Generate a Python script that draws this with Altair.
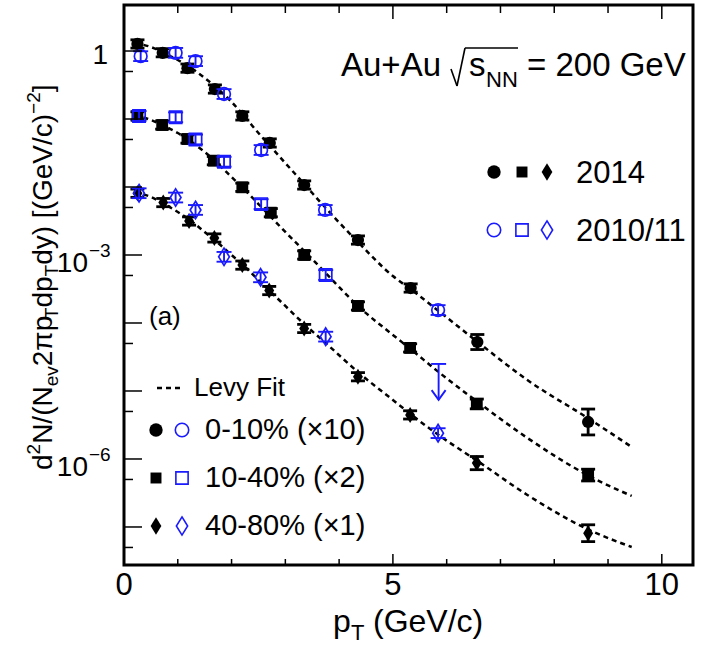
import altair as alt
import pandas as pd

FONT = "Liberation Sans"
BLUE = "#1a1aff"

# ---------------- data ----------------
# 2014, 0-10% (x10)
pt_c14 = [0.25, 0.72, 1.18, 1.69, 2.20, 2.71, 3.35, 4.35, 5.33, 6.57, 8.63]
y_c14 = [1.27, 0.94, 0.56, 0.276, 0.111, 0.0444, 0.0107, 1.66e-3, 3.27e-4, 5.25e-5, 3.5e-6]
e_c14 = [0.15, 0.15, 0.15, 0.15, 0.15, 0.15, 0.15, 0.15, 0.15, 0.29, 0.55]
# 2014, 10-40% (x2)
pt_s14 = [0.25, 0.71, 1.18, 1.67, 2.20, 2.73, 3.35, 4.35, 5.32, 6.56, 8.63]
y_s14 = [0.111, 0.0816, 0.0508, 0.0244, 0.0099, 4.19e-3, 1.0e-3, 1.78e-4, 4.3e-5, 6.45e-6, 5.8e-7]
e_s14 = [0.15, 0.15, 0.15, 0.15, 0.15, 0.15, 0.15, 0.15, 0.15, 0.18, 0.22]
# 2014, 40-80% (x1)
pt_d14 = [0.25, 0.73, 1.21, 1.68, 2.20, 2.70, 3.35, 4.35, 5.32, 6.56, 8.63]
y_d14 = [8.1e-3, 5.9e-3, 3.16e-3, 1.78e-3, 7.1e-4, 3.0e-4, 8.3e-5, 1.62e-5, 4.45e-6, 8.7e-7, 8.1e-8]
e_d14 = [0.15, 0.15, 0.15, 0.15, 0.15, 0.15, 0.15, 0.15, 0.15, 0.25, 0.33]

# 2010/11
pt_c11 = [0.31, 0.96, 1.33, 1.86, 2.55, 3.74, 5.84]
y_c11 = [0.84, 0.94, 0.71, 0.233, 0.035, 4.6e-3, 1.55e-4]
e_c11 = [0.18, 0.18, 0.18, 0.18, 0.18, 0.18, 0.18]
pt_s11 = [0.28, 0.96, 1.33, 1.86, 2.55, 3.75]
y_s11 = [0.111, 0.106, 0.05, 0.0235, 5.6e-3, 5.08e-4]
e_s11 = [0.18, 0.18, 0.18, 0.18, 0.18, 0.18]
pt_d11 = [0.28, 0.96, 1.33, 1.86, 2.54, 3.75, 5.84]
y_d11 = [8.1e-3, 7.0e-3, 4.6e-3, 9.4e-4, 4.7e-4, 6.3e-5, 2.4e-6]
e_d11 = [0.18, 0.18, 0.18, 0.18, 0.18, 0.18, 0.18]

# 10-40% 2010/11 upper limit
lim_pt = [5.85]
lim_top = [2.5e-5]
lim_tip = [7.4e-6]

# Levy fit curves
fit_x = [0.2, 0.5, 0.75, 1.0, 1.25, 1.5, 1.75, 2.0, 2.25, 2.5, 2.75, 3.0, 3.35, 3.75,
         4.35, 5.0, 5.35, 5.85, 6.6, 7.5, 8.65, 9.44]
fit_c = [1.31, 1.145, 0.935, 0.737, 0.562, 0.401, 0.276, 0.178, 0.107, 0.0622, 0.0375,
         0.0225, 0.0111, 4.91e-3, 1.55e-3, 4.9e-4, 3.06e-4, 1.50e-4, 5.08e-5, 1.45e-5,
         3.88e-6, 1.50e-6]
fit_s = [0.1145, 0.0967, 0.0789, 0.0622, 0.0459, 0.0327, 0.0218, 0.0140, 9.03e-3, 5.62e-3,
         3.50e-3, 2.18e-3, 1.15e-3, 5.44e-4, 1.78e-4, 6.67e-5, 4.01e-5, 1.90e-5, 6.67e-6,
         2.04e-6, 5.62e-7, 2.86e-7]
fit_d = [8.44e-3, 7.13e-3, 5.62e-3, 4.29e-3, 3.16e-3, 2.18e-3, 1.50e-3, 1.0e-3, 6.67e-4,
         4.28e-4, 2.76e-4, 1.78e-4, 9.66e-5, 5.08e-5, 1.90e-5, 7.38e-6, 4.44e-6, 2.25e-6,
         9.04e-7, 2.96e-7, 9.04e-8, 5.08e-8]

x_major = [0, 5, 10]
x_minor = [1, 2, 3, 4, 6, 7, 8, 9]
y_decades = [1e-7, 1e-6, 1e-5, 1e-4, 1e-3, 1e-2, 1e-1, 1]
y_halves = [5e-8, 5e-7, 5e-6, 5e-5, 5e-4, 5e-3, 5e-2, 0.5]
y_lab_vals = [1e-3, 1e-6]
y_lab_exp = ["\u22123", "\u22126"]

# ---------------- layout ----------------
L, T = 124, 5
W, H = 569, 560
xs = alt.Scale(domain=[0, 10.58], nice=False, zero=False)
ys = alt.Scale(type="log", domain=[2.76e-8, 4.75], nice=False)

CIRCLE = "circle"
SQUARE = "square"
DIAMOND = "M0,-1L0.62,0L0,1L-0.62,0Z"
ARROWHEAD = "M-1,-1.4L0,0L1,-1.4"


def X(f="pt"):
    return alt.X(f"{f}:Q", scale=xs, axis=None)


def Y(f="y"):
    return alt.Y(f"{f}:Q", scale=ys, axis=None)


def series(pt, y, err, shape, size, color, filled, cap, sw):
    df = pd.DataFrame({
        "pt": pt, "y": y,
        "lo": [v / (1 + e) for v, e in zip(y, err)],
        "hi": [v * (1 + e) for v, e in zip(y, err)],
    })
    base = alt.Chart(df)
    bar = base.mark_rule(color=color, strokeWidth=sw).encode(x=X(), y=Y("lo"), y2="hi:Q")
    c1 = base.mark_tick(orient="horizontal", size=cap, thickness=sw, color=color,
                        opacity=1).encode(x=X(), y=Y("lo"))
    c2 = base.mark_tick(orient="horizontal", size=cap, thickness=sw, color=color,
                        opacity=1).encode(x=X(), y=Y("hi"))
    if filled:
        p = base.mark_point(shape=shape, size=size, filled=True, color=color,
                            opacity=1).encode(x=X(), y=Y())
    else:
        p = base.mark_point(shape=shape, size=size, filled=False, color=color,
                            strokeWidth=1.7, opacity=1).encode(x=X(), y=Y())
    return [bar, c1, c2, p]


def fit(vals):
    df = pd.DataFrame({"pt": fit_x, "y": vals})
    return alt.Chart(df).mark_line(color="black", strokeDash=[5, 4], interpolate="monotone",
                                   strokeWidth=2.5).encode(x=X(), y=Y())


ONE = pd.DataFrame({"a": [0]})


def txt(s, x, y, size, align="left", angle=0, color="black"):
    return alt.Chart(ONE).mark_text(
        align=align, baseline="alphabetic", fontSize=size, font=FONT,
        angle=angle, color=color).encode(
        x=alt.value(x - L), y=alt.value(y - T), text=alt.value(s))


def seg(x1, y1, x2, y2, w=1.6):
    return alt.Chart(ONE).mark_rule(color="black", strokeWidth=w).encode(
        x=alt.value(x1 - L), y=alt.value(y1 - T), x2=alt.value(x2 - L), y2=alt.value(y2 - T))


def sym(x, y, shape, size, color, filled):
    kw = dict(shape=shape, size=size, filled=filled, color=color, opacity=1)
    if not filled:
        kw["strokeWidth"] = 1.6
    return alt.Chart(ONE).mark_point(**kw).encode(x=alt.value(x - L), y=alt.value(y - T))


layers = []

# fits
layers += [fit(fit_c), fit(fit_s), fit(fit_d)]

# data
layers += series(pt_c14, y_c14, e_c14, CIRCLE, 150, "black", True, 14, 2.8)
layers += series(pt_s14, y_s14, e_s14, SQUARE, 140, "black", True, 14, 2.8)
layers += series(pt_d14, y_d14, e_d14, DIAMOND, 256, "black", True, 14, 2.8)
layers += series(pt_c11, y_c11, e_c11, CIRCLE, 160, BLUE, False, 15, 1.9)
layers += series(pt_s11, y_s11, e_s11, SQUARE, 150, BLUE, False, 15, 1.9)
layers += series(pt_d11, y_d11, e_d11, DIAMOND, 300, BLUE, False, 15, 1.9)

# upper limit arrow
lim = pd.DataFrame({"pt": lim_pt, "top": lim_top, "tip": lim_tip})
lb = alt.Chart(lim)
layers += [
    lb.mark_rule(color=BLUE, strokeWidth=1.9).encode(x=X(), y=Y("top"), y2="tip:Q"),
    lb.mark_tick(orient="horizontal", size=15, thickness=1.9, color=BLUE,
                 opacity=1).encode(x=X(), y=Y("top")),
    lb.mark_point(shape=ARROWHEAD, size=196, filled=False, color=BLUE, strokeWidth=1.9,
                  opacity=1).encode(x=X(), y=Y("tip")),
]

# ticks (inward, ROOT style)
dmaj = alt.Chart(pd.DataFrame({"v": x_major}))
dmin = alt.Chart(pd.DataFrame({"v": x_minor}))
layers += [
    dmaj.mark_rule(color="black", strokeWidth=1.5).encode(
        x=alt.X("v:Q", scale=xs, axis=None), y=alt.value(H), y2=alt.value(H - 11)),
    dmin.mark_rule(color="black", strokeWidth=1.5).encode(
        x=alt.X("v:Q", scale=xs, axis=None), y=alt.value(H), y2=alt.value(H - 6)),
    dmaj.mark_rule(color="black", strokeWidth=1.5).encode(
        x=alt.X("v:Q", scale=xs, axis=None), y=alt.value(0), y2=alt.value(14)),
    dmin.mark_rule(color="black", strokeWidth=1.5).encode(
        x=alt.X("v:Q", scale=xs, axis=None), y=alt.value(0), y2=alt.value(8)),
]
ydec = alt.Chart(pd.DataFrame({"v": y_decades}))
yhalf = alt.Chart(pd.DataFrame({"v": y_halves}))
layers += [
    ydec.mark_rule(color="black", strokeWidth=1.5).encode(
        y=alt.Y("v:Q", scale=ys, axis=None), x=alt.value(0), x2=alt.value(18)),
    yhalf.mark_rule(color="black", strokeWidth=1.5).encode(
        y=alt.Y("v:Q", scale=ys, axis=None), x=alt.value(0), x2=alt.value(9)),
]

# tick labels
layers.append(
    dmaj.mark_text(fontSize=31, font=FONT, baseline="alphabetic", align="center").encode(
        x=alt.X("v:Q", scale=xs, axis=None), y=alt.value(595 - T), text="v:Q"))
ylab = alt.Chart(pd.DataFrame({"v": y_lab_vals, "e": y_lab_exp}))
layers += [
    ylab.mark_text(fontSize=28, font=FONT, baseline="alphabetic", align="right", dy=17).encode(
        y=alt.Y("v:Q", scale=ys, axis=None), x=alt.value(88 - L), text=alt.value("10")),
    ylab.mark_text(fontSize=19, font=FONT, baseline="alphabetic", align="left", dy=2).encode(
        y=alt.Y("v:Q", scale=ys, axis=None), x=alt.value(89 - L), text="e:N"),
    alt.Chart(pd.DataFrame({"v": [1]})).mark_text(
        fontSize=28, font=FONT, baseline="alphabetic", align="right", dy=13).encode(
        y=alt.Y("v:Q", scale=ys, axis=None), x=alt.value(108 - L), text=alt.value("1")),
]

# axis titles
AW = {'d': 556, '2': 556, 'N': 722, '/': 278, '(': 333, ')': 333, 'e': 556, 'v': 500,
      '\u03c0': 570, 'p': 556, 'T': 611, 'y': 500, ' ': 278, '[': 278, ']': 278,
      'G': 778, 'V': 667, 'c': 500, '\u2212': 584}


def wid(s, size):
    return sum(AW.get(ch, 556) for ch in s) * size / 1000.0


# y title, rotated, laid out bottom to top
F, f = 28, 19
bx, yy = 52, 470
segs = [("d", 0), ("2", 1), ("N/(N", 0), ("ev", -1), ("2\u03c0p", 0), ("T", -1),
        ("dp", 0), ("T", -1), ("dy) [(GeV/c)", 0), ("\u22122", 1), ("]", 0)]
for s, kind in segs:
    size = F if kind == 0 else f
    x = bx if kind == 0 else (bx - 12 if kind == 1 else bx + 6)
    layers.append(txt(s, x, yy, size, angle=270))
    yy -= wid(s, size)

# x title
layers += [
    txt("p", 333, 632, 32),
    txt("T", 351, 640, 22),
    txt("(GeV/c)", 373, 632, 32),
]

# header text
layers += [
    txt("Au+Au", 341, 76, 33),
    seg(451, 69, 457, 86),
    seg(457, 86, 465, 48),
    seg(465, 48, 518, 48),
    txt("s", 469, 76, 33),
    txt("NN", 486, 87, 22),
    txt("= 200 GeV", 527, 76, 33),
]

# year legend
layers += [
    sym(494, 172, CIRCLE, 180, "black", True),
    sym(522, 172, SQUARE, 120, "black", True),
    sym(547, 172, DIAMOND, 300, "black", True),
    txt("2014", 576, 183, 31),
    sym(494, 230, CIRCLE, 180, BLUE, False),
    sym(522, 230, SQUARE, 150, BLUE, False),
    sym(547, 230, DIAMOND, 330, BLUE, False),
    txt("2010/11", 576, 241, 31),
]

# centrality legend
layers += [
    txt("(a)", 149, 325, 26),
    alt.Chart(ONE).mark_rule(color="black", strokeWidth=2.5, strokeDash=[5, 4]).encode(
        x=alt.value(157 - L), x2=alt.value(183 - L), y=alt.value(388 - T)),
    txt("Levy Fit", 194, 396, 26),
    sym(156, 430, CIRCLE, 180, "black", True),
    sym(182, 430, CIRCLE, 180, BLUE, False),
    txt("0-10% (\u00d710)", 205, 439, 29),
    sym(156, 478, SQUARE, 120, "black", True),
    sym(182, 478, SQUARE, 150, BLUE, False),
    txt("10-40% (\u00d72)", 205, 487, 29),
    sym(156, 526, DIAMOND, 300, "black", True),
    sym(182, 526, DIAMOND, 330, BLUE, False),
    txt("40-80% (\u00d71)", 205, 535, 29),
]

chart = alt.layer(*layers).properties(
    width=W, height=H,
    padding={"left": L, "top": T, "right": 705 - L - W, "bottom": 651 - T - H},
    autosize=alt.AutoSizeParams(type="none"),
    background="white",
).configure_view(stroke="black", strokeWidth=3)

chart.save("out.html", embed_options={"renderer": "svg", "actions": False})
